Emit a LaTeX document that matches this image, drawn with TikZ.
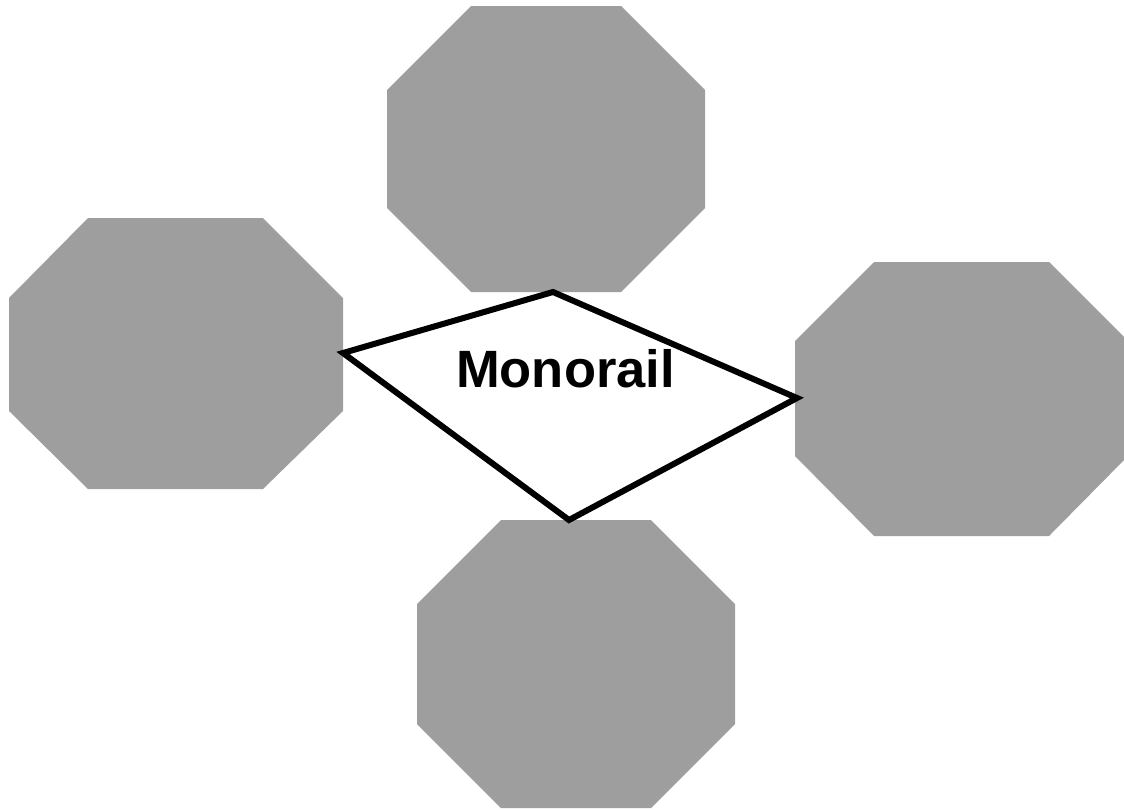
\documentclass[tikz,border=0pt]{standalone}
\usepackage{fontspec}
\setmainfont{Liberation Sans}
\definecolor{octgray}{RGB}{158,158,158}
\begin{document}
\begin{tikzpicture}[x=1pt,y=-1pt,
  oct/.style={fill=octgray,draw=none},
  railbox/.style={fill=white,draw=black,line width=6pt,line join=miter},
  label/.style={font=\fontsize{52.5}{60}\selectfont\bfseries,inner sep=0pt,anchor=base}]
\useasboundingbox (0,0) rectangle (1124,809);
% top octagon
\fill[oct] (471,6) -- (621,6) -- (705,90) -- (705,208) -- (621,292) -- (471,292) -- (387,208) -- (387,90) -- cycle;
% left octagon
\fill[oct] (88,218) -- (263,218) -- (343,298) -- (343,411) -- (263,489) -- (88,489) -- (9,411) -- (9,298) -- cycle;
% right octagon
\fill[oct] (874,262) -- (1049,262) -- (1128,341) -- (1128,456) -- (1049,536) -- (874,536) -- (795,456) -- (795,341) -- cycle;
% bottom octagon
\fill[oct] (501,520) -- (651,520) -- (735,604) -- (735,724) -- (651,808) -- (501,808) -- (417,724) -- (417,604) -- cycle;
% quadrilateral
\coordinate (qw) at (343,353);
\coordinate (qn) at (553,292);
\coordinate (qe) at (797,398);
\coordinate (qs) at (569,520);
\draw[railbox] (qw) -- (qn) -- (qe) -- (qs) -- cycle;
\node[label] (mono) at (565.5,387) {Monorail};
\end{tikzpicture}
\end{document}
